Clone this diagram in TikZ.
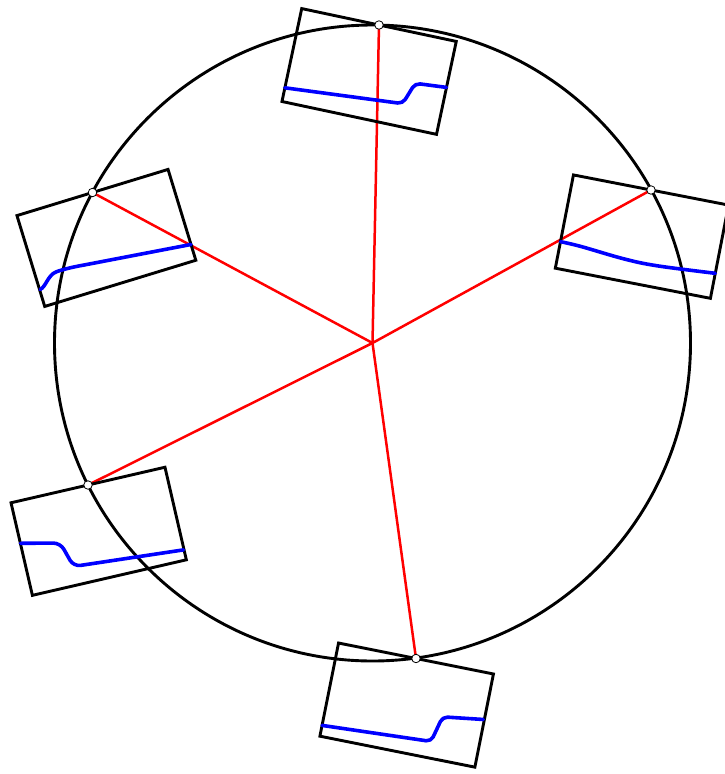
\documentclass[tikz,border=0pt]{standalone}
\begin{document}
\begin{tikzpicture}[x=1pt,y=-1pt,
  frame/.style={draw=black,line width=2.9pt},
  spoke/.style={draw=red,line width=2.5pt},
  trace/.style={draw=blue,line width=3.6pt,line cap=round,line join=round},
  pin/.style={circle,draw=black,fill=white,line width=0.8pt,inner sep=0pt,minimum size=8.5pt}]
\useasboundingbox (0,0) rectangle (724,774);
\coordinate (c) at (372.5,343);
\coordinate (p1) at (379,25);
\coordinate (p2) at (651,190);
\coordinate (p3) at (416,658.5);
\coordinate (p4) at (88,485);
\coordinate (p5) at (92.5,192.5);
\draw[frame] (c) circle[radius=318pt];
\foreach \p in {p1,p2,p3,p4,p5} \draw[spoke] (c) -- (\p);
% top
\begin{scope}[shift={(p1)},rotate=-12]
  \draw[frame] (-79,0) -- (79,0) -- (79,95) -- (-79,95) -- cycle;
  \draw[trace,rounded corners=5pt] (-79,81) -- (39.5,72) -- (47.5,49.5) -- (79,47);
\end{scope}
% right
\begin{scope}[shift={(p2)},rotate=-11]
  \draw[frame] (-79,0) -- (79,0) -- (79,95) -- (-79,95) -- cycle;
  \draw[trace] plot[smooth,tension=0.6] coordinates {(-79,68) (-58,68.8) (-13,72.8) (21,73.2) (79,69.5)};
\end{scope}
% bottom
\begin{scope}[shift={(p3)},rotate=-11.3]
  \draw[frame] (-79,0) -- (79,0) -- (79,95) -- (-79,95) -- cycle;
  \draw[trace,rounded corners=5pt] (-79,84) -- (31,78.4) -- (37.5,52) -- (78,46.6);
\end{scope}
% bottom left
\begin{scope}[shift={(p4)},rotate=13]
  \draw[frame] (-79,0) -- (79,0) -- (79,95) -- (-79,95) -- cycle;
  \draw[trace,rounded corners=7pt] (-79,41.6) -- (-40,50.3) -- (-32.4,76.1) -- (78.5,84.7);
\end{scope}
% top left
\begin{scope}[shift={(p5)},rotate=17]
  \draw[frame] (-79,0) -- (79,0) -- (79,95) -- (-79,95) -- cycle;
  \draw[trace] (-78.5,77.5) .. controls (-72,76.5) and (-67,66) .. (-58,65.3)
     .. controls (-52,64.8) and (-40,65.5) .. (-30,66.8) -- (79,78.5);
\end{scope}
\foreach \p [count=\i] in {p1,p2,p3,p4,p5} \node[pin] (d\i) at (\p) {};
\end{tikzpicture}
\end{document}
